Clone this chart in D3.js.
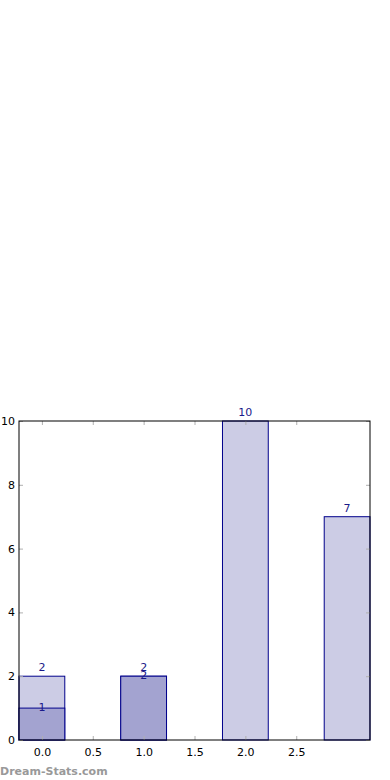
<!DOCTYPE html>
<html>
<head>
<meta charset="utf-8">
<script src="https://cdn.jsdelivr.net/npm/d3@7"></script>
<style>
  body { margin: 0; background: #fff; font-family: "DejaVu Sans", sans-serif; }
  svg { display: block; }
  .tick text { font-size: 11px; fill: #000; }
  .tick line { stroke: #b0b0b0; }
  .label { font-size: 11px; fill: #1a1a8a; text-anchor: middle; }
  .mark { font-size: 11px; font-weight: bold; fill: #999; }
</style>
</head>
<body>
<svg id="chart" width="390" height="780"></svg>
<script>
const positions = [0, 1, 2, 3];
const totalCounts = [2, 2, 10, 7];
const subCounts = [1, 2, 0, 0];
const xTicks = [0, 0.5, 1, 1.5, 2, 2.5];
const yTicks = [0, 2, 4, 6, 8, 10];

const barWidth = 0.45;
const margin = { left: 19, right: 20, top: 421, bottom: 40 };
const W = 390, H = 780;
const width = W - margin.left - margin.right;
const height = H - margin.top - margin.bottom;

const svg = d3.select("#chart");
const chart = svg.append("g")
  .attr("transform", `translate(${margin.left}, ${margin.top})`);

const x = d3.scaleLinear().domain([-0.225, 3.225]).range([0, width]);
const y = d3.scaleLinear().domain([0, 10]).range([height, 0]);

// bars: light totals, darker subset on top
chart.selectAll(".total").data(positions).enter().append("rect")
  .attr("class", "total")
  .attr("x", (d) => x(d - barWidth / 2))
  .attr("y", (d, i) => y(totalCounts[i]))
  .attr("width", x(barWidth) - x(0))
  .attr("height", (d, i) => height - y(totalCounts[i]))
  .attr("fill", "#ccccE5")
  .attr("stroke", "#00008b")
  .attr("stroke-width", 1);

chart.selectAll(".sub").data(positions.filter((d, i) => subCounts[i] > 0)).enter().append("rect")
  .attr("class", "sub")
  .attr("x", (d) => x(d - barWidth / 2))
  .attr("y", (d) => y(subCounts[d]))
  .attr("width", x(barWidth) - x(0))
  .attr("height", (d) => height - y(subCounts[d]))
  .attr("fill", "#a3a3d0")
  .attr("stroke", "#00008b")
  .attr("stroke-width", 1);

// value labels
chart.selectAll(".tl").data(positions).enter().append("text")
  .attr("class", "label")
  .attr("x", (d) => x(d))
  .attr("y", (d, i) => y(totalCounts[i]) - 5)
  .text((d, i) => totalCounts[i]);

chart.selectAll(".sl").data(positions.filter((d, i) => subCounts[i] > 0)).enter().append("text")
  .attr("class", "label")
  .attr("x", (d) => x(d))
  .attr("y", (d) => y(subCounts[d]) + 3)
  .text((d) => subCounts[d]);

// axes, ticks inside
chart.append("g")
  .attr("transform", `translate(0, ${height})`)
  .call(d3.axisBottom(x).tickValues(xTicks).tickFormat(d3.format(".1f")).tickSizeInner(-4).tickSizeOuter(0).tickPadding(8))
  .call((g) => g.select(".domain").remove());
chart.append("g")
  .call(d3.axisTop(x).tickValues(xTicks).tickFormat("").tickSizeInner(-4).tickSizeOuter(0))
  .call((g) => g.select(".domain").remove());
chart.append("g")
  .call(d3.axisLeft(y).tickValues(yTicks).tickSizeInner(-4).tickSizeOuter(0).tickPadding(8))
  .call((g) => g.select(".domain").remove())
  .call((g) => g.selectAll(".tick text").attr("x", -4));
chart.append("g")
  .attr("transform", `translate(${width}, 0)`)
  .call(d3.axisRight(y).tickValues(yTicks).tickFormat("").tickSizeInner(-4).tickSizeOuter(0))
  .call((g) => g.select(".domain").remove());

chart.selectAll(".tick text").attr("font-family", "DejaVu Sans").attr("font-size", 11);

chart.append("rect")
  .attr("width", width)
  .attr("height", height)
  .attr("fill", "none")
  .attr("stroke", "#000")
  .attr("stroke-width", 1);

svg.append("text")
  .attr("class", "mark")
  .attr("x", 0)
  .attr("y", 775)
  .text("Dream-Stats.com");
</script>
</body>
</html>
